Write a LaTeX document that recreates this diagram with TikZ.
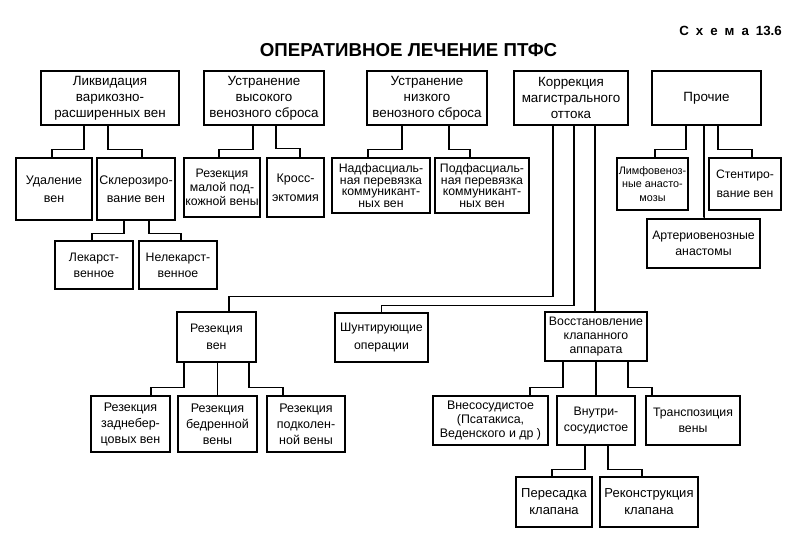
\documentclass[tikz,border=0pt]{standalone}
\usepackage{fontspec}
\setmainfont{Liberation Sans}
\tikzset{
  box/.style={draw, line width=2.8pt, inner sep=0pt, align=center, font=\fontsize{12}{15}\selectfont},
  topbox/.style={font=\fontsize{13.4}{16.2}\selectfont},
  dense/.style={font=\fontsize{12.3}{11.6}\selectfont},
  mid/.style={font=\fontsize{12.3}{14.2}\selectfont},
  conn/.style={line width=1.5pt},
}
\newcommand\bx[7][]{\node[box,#1,minimum width={(#5-#3)*1pt},minimum height={(#6-#4)*1pt}] (#2) at ({(#3+#5)/2},{(#4+#6)/2}) {#7};}
\begin{document}
\begin{tikzpicture}[x=1pt,y=-1pt]
\useasboundingbox (0,0) rectangle (796,536);
\node[font=\fontsize{13.3}{15}\selectfont\bfseries, anchor=east, inner sep=0pt] (schema) at (782,30.5) {С\kern7pt х\kern7pt е\kern7pt м\kern7pt а\hspace{7pt}13.6};
\node[font=\fontsize{18.7}{20}\selectfont\bfseries] (title) at (408.5,50) {ОПЕРАТИВНОЕ ЛЕЧЕНИЕ ПТФС};
% top row
\bx[topbox]{lik}{41}{71}{179}{125}{Ликвидация\\варикозно-\\расширенных вен}
\bx[topbox]{vys}{204}{71}{324}{125}{Устранение\\высокого\\венозного сброса}
\bx[topbox]{niz}{367}{71}{487}{125}{Устранение\\низкого\\венозного сброса}
\bx[topbox]{kor}{514}{71}{628}{125}{Коррекция\\магистрального\\оттока}
\bx[topbox]{pro}{652}{71}{761}{125}{Прочие}
% second row
\bx[font=\fontsize{12.5}{18}\selectfont]{udal}{16}{158}{92}{220}{Удаление\\вен}
\bx[font=\fontsize{12.5}{18}\selectfont]{skl}{97}{158}{175}{220}{Склерозиро-\\вание вен}
\bx[mid]{rmp}{184}{158}{260}{217}{Резекция\\малой под-\\кожной вены}
\bx[font=\fontsize{12.5}{19}\selectfont]{kros}{267}{158}{324}{217}{Кросс-\\эктомия}
\bx[dense]{nadf}{332}{158}{430}{213}{Надфасциаль-\\ная перевязка\\коммуникант-\\ных вен}
\bx[dense]{podf}{435}{158}{529}{213}{Подфасциаль-\\ная перевязка\\коммуникант-\\ных вен}
\bx[font=\fontsize{10.8}{13.5}\selectfont]{limf}{617}{158}{688}{210}{Лимфовеноз-\\ные анасто-\\мозы}
\bx[font=\fontsize{12.2}{19}\selectfont]{sten}{709}{158}{781}{210}{Стентиро-\\вание вен}
\bx[font=\fontsize{12.3}{16}\selectfont]{art}{647}{219}{760}{268}{Артериовенозные\\анастомы}
\bx[font=\fontsize{12.3}{16}\selectfont]{lek}{55}{241}{133}{289}{Лекарст-\\венное}
\bx[font=\fontsize{12.3}{16}\selectfont]{nelek}{139}{241}{217}{289}{Нелекарст-\\венное}
% third row
\bx[font=\fontsize{12.3}{17}\selectfont]{rezv}{177}{312}{256}{362}{Резекция\\вен}
\bx[font=\fontsize{12.3}{18}\selectfont]{shunt}{335}{313}{428}{362}{Шунтирующие\\операции}
\bx[mid]{vos}{545}{312}{647}{361}{Восстановление\\клапанного\\аппарата}
% fourth row
\bx[font=\fontsize{12.5}{16}\selectfont]{zadn}{91}{396}{170}{452}{Резекция\\заднебер-\\цовых вен}
\bx[font=\fontsize{12.5}{16}\selectfont]{bedr}{178}{396}{257}{452}{Резекция\\бедренной\\вены}
\bx[font=\fontsize{12.5}{16}\selectfont]{podk}{267}{396}{345}{452}{Резекция\\подколен-\\ной вены}
\bx[font=\fontsize{12.4}{13.8}\selectfont]{vnes}{433}{396}{548}{445}{Внесосудистое\\(Псатакиса,\\Веденского и др )}
\bx[font=\fontsize{12.3}{16.5}\selectfont]{vnut}{557}{396}{635}{445}{Внутри-\\сосудистое}
\bx[font=\fontsize{12.3}{16}\selectfont]{trans}{646}{396}{740}{445}{Транспозиция\\вены}
% fifth row
\bx[font=\fontsize{13}{17}\selectfont]{peres}{516}{477}{592}{527}{Пересадка\\клапана}
\bx[font=\fontsize{13}{17}\selectfont]{rekon}{600}{477}{698}{527}{Реконструкция\\клапана}
% connectors
\draw[conn] ([xshift=-26pt]lik.south) -- ++(0,23) -| ([xshift=-2pt]udal.north);
\draw[conn] ([xshift=-2pt]lik.south) -- ++(0,23) -| ([xshift=6pt]skl.north);
\draw[conn] ([xshift=-11pt]vys.south) -- ++(0,23) -| ([xshift=-3pt]rmp.north);
\draw[conn] ([xshift=12pt]vys.south) -- ++(0,22) -| ([xshift=4.5pt]kros.north);
\draw[conn] ([xshift=-25pt]niz.south) -- ++(0,23) -| ([xshift=-13pt]nadf.north);
\draw[conn] ([xshift=22pt]niz.south) -- ++(0,23) -| ([xshift=-12pt]podf.north);
\draw[conn] ([xshift=-20.5pt]pro.south) -- ++(0,23) -| ([xshift=2.5pt]limf.north);
\draw[conn] ([xshift=-2.5pt]pro.south) |- (art.north);
\draw[conn] ([xshift=11.5pt]pro.south) -- ++(0,23) -| ([xshift=7pt]sten.north);
\draw[conn] ([xshift=-12pt]skl.south) -- ++(0,12) -| ([xshift=-2pt]lek.north);
\draw[conn] ([xshift=13pt]skl.south) -- ++(0,12) -| ([xshift=3pt]nelek.north);
\draw[conn] ([xshift=-18pt]kor.south) -- ++(0,170) -| ([xshift=12.5pt]rezv.north);
\draw[conn] ([xshift=3pt]kor.south) -- ++(0,179) -| (shunt.north);
\draw[conn] ([xshift=24pt]kor.south) |- (vos.north);
\draw[conn] ([xshift=-32.5pt]rezv.south) -- ++(0,24) -| ([xshift=20.5pt]zadn.north);
\draw[conn] (rezv.south -| bedr.north) -- (bedr.north);
\draw[conn] ([xshift=32.5pt]rezv.south) -- ++(0,24) -| ([xshift=-23pt]podk.north);
\draw[conn] ([xshift=-33pt]vos.south) -- ++(0,25) -| ([xshift=39.5pt]vnes.north);
\draw[conn] (vos.south) -- (vnut.north);
\draw[conn] ([xshift=32pt]vos.south) -- ++(0,25) -| ([xshift=-41pt]trans.north);
\draw[conn] ([xshift=-11pt]vnut.south) -- ++(0,23) -| ([xshift=-2pt]peres.north);
\draw[conn] ([xshift=12pt]vnut.south) -- ++(0,23) -| ([xshift=-7pt]rekon.north);
\end{tikzpicture}
\end{document}
